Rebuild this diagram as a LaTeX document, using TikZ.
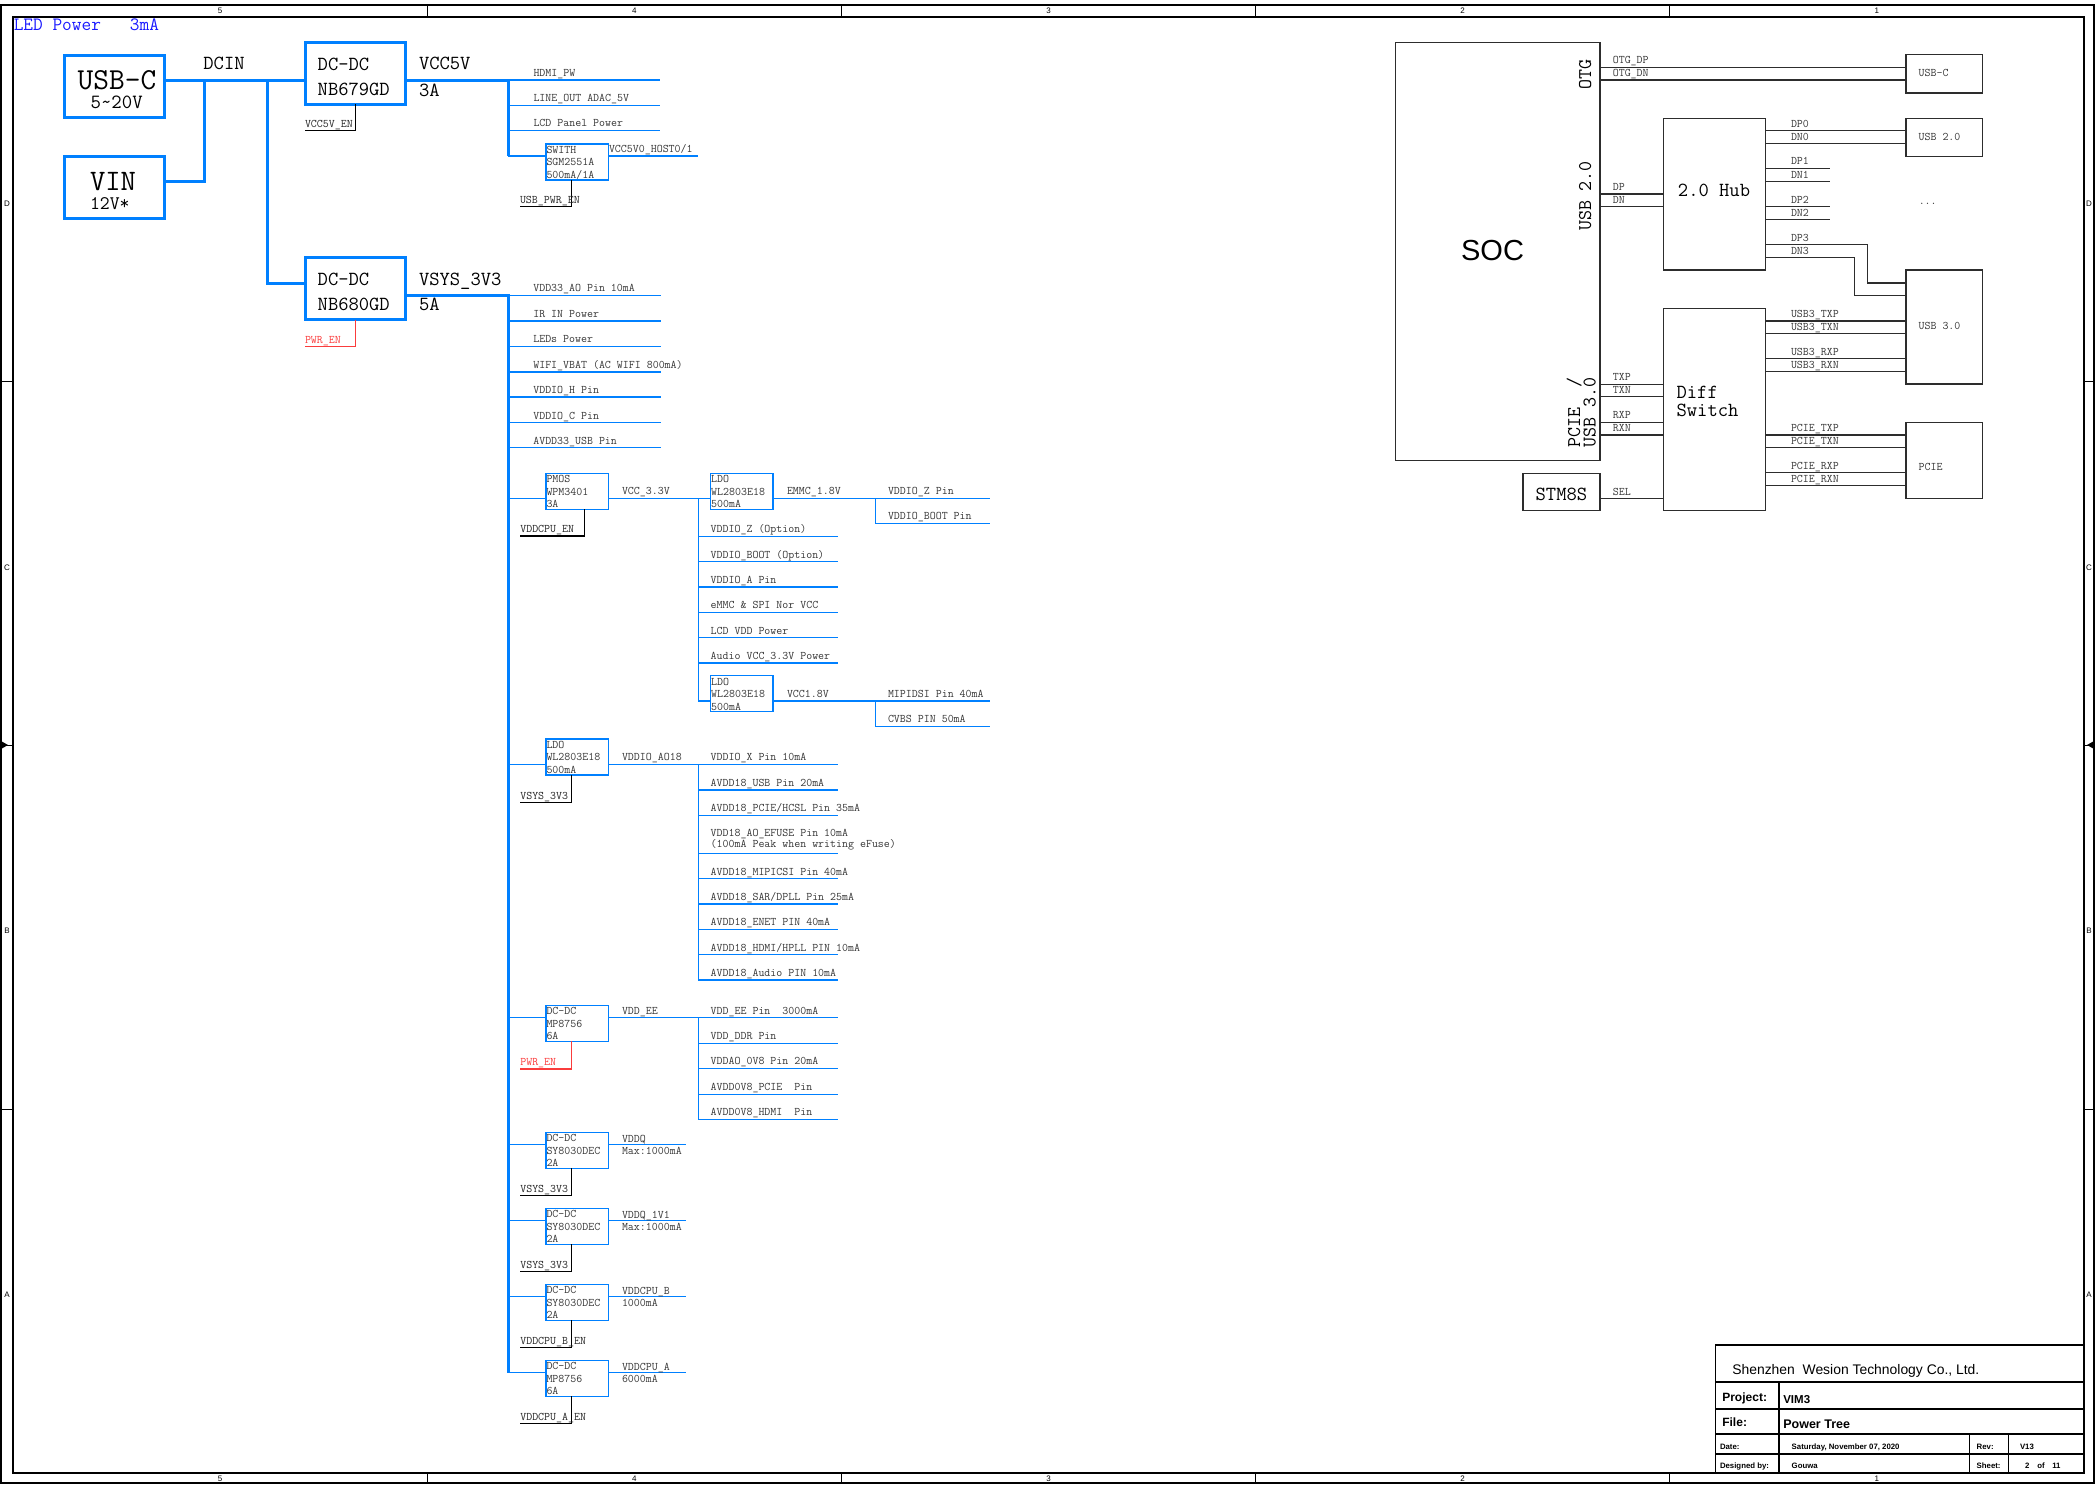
\documentclass[tikz,border=0pt]{standalone}
\usepackage{fontspec}
\renewcommand*{\familydefault}{\ttdefault}
\newfontfamily\arialfont{Liberation Sans}
\usetikzlibrary{positioning,calc}
\definecolor{schblue}{RGB}{0,128,255}
\definecolor{ledblue}{RGB}{25,25,255}
\definecolor{schred}{RGB}{250,60,60}
\definecolor{schtext}{RGB}{55,55,55}
\definecolor{schline}{RGB}{45,45,45}

\tikzset{
  pwrbox/.style={draw=schblue, line width=3pt, minimum width=100pt, minimum height=62pt, anchor=north west},
  chip/.style={draw=schblue, line width=1.4pt, minimum width=62.3pt, minimum height=36pt, anchor=north west},
  blkbox/.style={draw=schline, line width=1.5pt, anchor=north west},
  bus/.style={draw=schblue, line width=3pt},
  tap/.style={draw=schblue, line width=1.4pt},
  enline/.style={draw=black, line width=1.3pt},
  sig/.style={draw=schline, line width=1.3pt},
  lbl/.style={anchor=base west, text=schtext, font=\ttfamily\fontsize{11.6}{13}\selectfont},
  enlbl/.style={anchor=base west, text=black!85, font=\ttfamily\fontsize{11.6}{13}\selectfont},
  biglbl/.style={anchor=base west, text=black, font=\ttfamily\fontsize{20}{22}\selectfont},
  frmlbl/.style={text=black, font=\arialfont\fontsize{8}{9}\selectfont},
  tblbl/.style={anchor=base west, font=\arialfont\bfseries\fontsize{7.8}{9}\selectfont},
}

% three text lines inside a small converter box
\newcommand{\chiptext}[4]{%
  \node[lbl] (#1-a) at ($(#1.north west)+(0.5,9.4)$) {#2};
  \node[lbl] (#1-b) at ($(#1.north west)+(0.5,21.8)$) {#3};
  \node[lbl] (#1-c) at ($(#1.north west)+(0.5,34.4)$) {#4};
}

\begin{document}
\begin{tikzpicture}[x=1pt, y=-1pt, inner sep=0pt, outer sep=0pt]
  \useasboundingbox (0,0) rectangle (2095,1484);

  % drawing frame
  \draw[line width=1.2pt] (1,5) rectangle (2094,1483);
  \draw[line width=1.2pt] (13,17) rectangle (2084,1473);
  \foreach \n [count=\k] in {5,4,3,2,1}{
    \node[frmlbl] (ctop\n) at (13+414.2*\k-207.1,11) {\n};
    \node[frmlbl] (cbot\n) at (13+414.2*\k-207.1,1478.5) {\n};
  }
  \foreach \k in {1,...,4}{
    \draw[line width=1pt] (13+414.2*\k,5) -- (13+414.2*\k,17);
    \draw[line width=1pt] (13+414.2*\k,1473) -- (13+414.2*\k,1483);
  }
  \foreach \r/\y in {D/204,C/568,B/931,A/1295}{
    \node[frmlbl] (rl\r) at (7,\y) {\r};
    \node[frmlbl] (rr\r) at (2089,\y) {\r};
  }
  \foreach \y in {381,745,1109}{
    \draw[line width=1pt] (1,\y) -- (13,\y);
    \draw[line width=1pt] (2084,\y) -- (2094,\y);
  }
  \fill (1,741) -- (8,745) -- (1,749) -- cycle;
  \fill (2094,741) -- (2087,745) -- (2094,749) -- cycle;

  \node[anchor=base west, text=ledblue, font=\ttfamily\fontsize{18.8}{20}\selectfont] (ledpwr) at (13.8,30.7) {LED Power\ \ \ 3mA};

  % inputs
  \node[pwrbox] (usbc) at (64.5,55) {};
  \node[anchor=base, font=\ttfamily\fontsize{30.5}{32}\selectfont] (usbct) at (117,89) {USB-C};
  \node[anchor=base, font=\ttfamily\fontsize{20.2}{22}\selectfont] (usbcv) at (116.7,108) {5\textasciitilde20V};
  \node[pwrbox] (vin) at (64.5,156.5) {};
  \node[anchor=base west, font=\ttfamily\fontsize{29.7}{32}\selectfont] (vint) at (90,190) {VIN};
  \node[anchor=base west, font=\ttfamily\fontsize{19.2}{22}\selectfont] (vinv) at (90,209) {12V*};

  % DC-DC converters
  \node[pwrbox] (nb679) at (305.5,42) {};
  \node[biglbl] (nb679a) at (317.7,70) {DC-DC};
  \node[biglbl] (nb679b) at (317.7,95.6) {NB679GD};
  \node[pwrbox] (nb680) at (305.5,257.5) {};
  \node[biglbl] (nb680a) at (317.7,285) {DC-DC};
  \node[biglbl] (nb680b) at (317.7,310) {NB680GD};

  \node[biglbl] (dcin) at (203.4,69.3) {DCIN};
  \node[biglbl] (vcc5v) at (419,69) {VCC5V};
  \node[biglbl] (vcc5vi) at (419,96) {3A};
  \node[biglbl] (vsys3) at (419,285) {VSYS\_3V3};
  \node[biglbl] (vsys3i) at (419,310) {5A};

  \coordinate (dcin1) at (204.3,80);
  \coordinate (dcin2) at (267.2,80);
  \draw[bus] (usbc.east |- dcin1) -- (nb679.west |- dcin1);
  \draw[bus] (dcin1) |- (vin.east |- 0,181.7);
  \draw[bus] (dcin2) |- (nb680.west |- 0,283.3);

  % VCC5V rail
  \coordinate (v5top) at (508,80);
  \coordinate (v5bot) at (508,156);
  \draw[bus] (nb679.east |- v5top) -- (v5top) -- (v5bot);
  \foreach \y/\t [count=\k] in {80/HDMI\_PW, 105.3/LINE\_OUT ADAC\_5V, 130.7/LCD Panel Power}{
    \coordinate (v5e\k) at (660,\y);
    \draw[tap] (v5top |- v5e\k) -- (v5e\k);
    \node[lbl] (v5l\k) at (533.5,\y-4) {\t};
  }
  \node[chip] (sgm) at (546,144) {};
  \chiptext{sgm}{SWITH}{SGM2551A}{500mA/1A}
  \coordinate (host) at (698,156);
  \draw[tap] (v5bot) -- (sgm.west |- v5bot);
  \draw[tap] (sgm.east |- host) -- (host);
  \node[lbl] (hostl) at (609,152) {VCC5V0\_HOST0/1};

  % enables
  \coordinate (usben) at (520,206.7);
  \draw[enline] ([xshift=25.6pt]sgm.south west) |- (usben);
  \node[enlbl] (usbenl) at (usben |- 0,203.4) {USB\_PWR\_EN};
  \coordinate (v5en) at (305,130.7);
  \draw[enline] ([xshift=50.3pt]nb679.south west) |- (v5en);
  \node[enlbl] (v5enl) at (v5en |- 0,127.4) {VCC5V\_EN};
  \coordinate (pwren1) at (305,346.7);
  \draw[enline, draw=schred] ([xshift=50.3pt]nb680.south west) |- (pwren1);
  \node[enlbl, text=schred] (pwren1l) at (pwren1 |- 0,343.4) {PWR\_EN};

  % VSYS_3V3 rail
  \coordinate (vsys) at (508,295.5);
  \coordinate (vsysend) at (508,1372.7);
  \draw[bus] (nb680.east |- vsys) -- (vsys) -- (vsysend);
  \foreach \y/\t [count=\k] in {295.5/VDD33\_AO Pin 10mA, 321/IR IN Power, 346.3/LEDs Power, 372/{WIFI\_VBAT (AC WIFI 800mA)}, 397/VDDIO\_H Pin, 422.7/VDDIO\_C Pin, 447.7/AVDD33\_USB Pin}{
    \coordinate (vs\k) at (660.7,\y);
    \draw[tap] (vsys |- vs\k) -- (vs\k);
    \node[lbl] (vsl\k) at (533.3,\y-3.6) {\t};
  }

  % PMOS -> VCC_3.3V
  \node[chip] (pmos) at (546,473.3) {};
  \chiptext{pmos}{PMOS}{WPM3401}{3A}
  \node[chip] (ldoa) at (710.7,473.3) {};
  \chiptext{ldoa}{LDO}{WL2803E18}{500mA}
  \coordinate (tpmos) at (508,498.3);
  \draw[tap] (tpmos) -- (pmos.west |- tpmos);
  \draw[tap] (pmos.east |- tpmos) -- (ldoa.west |- tpmos);
  \node[lbl] (vcc33) at (622,494.3) {VCC\_3.3V};
  \coordinate (cpuen) at (520.3,536);
  \draw[enline] ([xshift=38.3pt]pmos.south west) |- (cpuen);
  \node[enlbl] (cpuenl) at (cpuen |- 0,532.7) {VDDCPU\_EN};

  \coordinate (v33top) at (698.3,498.3);
  \coordinate (v33bot) at (698.3,701);
  \draw[tap] (v33top) -- (v33bot);
  \foreach \y/\t [count=\k] in {536.3/VDDIO\_Z (Option), 561.7/VDDIO\_BOOT (Option), 587/VDDIO\_A Pin, 612.3/eMMC \& SPI Nor VCC, 637.7/LCD VDD Power, 663/Audio VCC\_3.3V Power}{
    \coordinate (v33e\k) at (837.7,\y);
    \draw[tap] (v33top |- v33e\k) -- (v33e\k);
    \node[lbl] (v33l\k) at (710.7,\y-3.7) {\t};
  }

  % EMMC_1.8V
  \coordinate (emmc) at (875.7,498.3);
  \coordinate (emmce) at (990,498.3);
  \coordinate (emmcb) at (990,523.3);
  \draw[tap] (ldoa.east |- emmc) -- (emmce);
  \draw[tap] (emmc) |- (emmcb);
  \node[lbl] (emmcl) at (787,494.3) {EMMC\_1.8V};
  \node[lbl] (emmcl1) at (888,494.3) {VDDIO\_Z Pin};
  \node[lbl] (emmcl2) at (888,519.7) {VDDIO\_BOOT Pin};

  % VCC1.8V
  \node[chip] (ldob) at (710.7,675.7) {};
  \chiptext{ldob}{LDO}{WL2803E18}{500mA}
  \coordinate (v18) at (875.7,701);
  \coordinate (v18e) at (990,701);
  \coordinate (v18b) at (990,726.7);
  \draw[tap] (v33bot) -- (ldob.west |- v33bot);
  \draw[tap] (ldob.east |- v18) -- (v18e);
  \draw[tap] (v18) |- (v18b);
  \node[lbl] (v18l) at (787,697.7) {VCC1.8V};
  \node[lbl] (v18l1) at (888,697.7) {MIPIDSI Pin 40mA};
  \node[lbl] (v18l2) at (888,722.3) {CVBS PIN 50mA};

  % VDDIO_AO18
  \node[chip] (ldoc) at (546,739) {};
  \chiptext{ldoc}{LDO}{WL2803E18}{500mA}
  \coordinate (tldoc) at (508,764.3);
  \coordinate (ao18top) at (698.3,764.3);
  \coordinate (ao18bot) at (698.3,980);
  \coordinate (ao18e) at (837.7,764.3);
  \draw[tap] (tldoc) -- (ldoc.west |- tldoc);
  \draw[tap] (ldoc.east |- tldoc) -- (ao18e);
  \draw[tap] (ao18top) -- (ao18bot);
  \node[lbl] (ao18l) at (622,760.7) {VDDIO\_AO18};
  \node[lbl] (ao18l0) at (710.7,760.7) {VDDIO\_X Pin 10mA};
  \coordinate (ldocen) at (520.3,802.3);
  \draw[enline] ([xshift=25.3pt]ldoc.south west) |- (ldocen);
  \node[enlbl] (ldocenl) at (ldocen |- 0,799) {VSYS\_3V3};
  \foreach \y/\t [count=\k] in {790/AVDD18\_USB Pin 20mA, 815.3/{AVDD18\_PCIE/HCSL Pin 35mA}, 853.3/{}, 878.7/AVDD18\_MIPICSI Pin 40mA, 904/{AVDD18\_SAR/DPLL Pin 25mA}, 929.3/AVDD18\_ENET PIN 40mA, 954.7/{AVDD18\_HDMI/HPLL PIN 10mA}, 980/AVDD18\_Audio PIN 10mA}{
    \coordinate (ao18e\k) at (837.7,\y);
    \draw[tap] (ao18top |- ao18e\k) -- (ao18e\k);
    \node[lbl] (ao18l\k) at (710.7,\y-3.6) {\t};
  }
  \node[lbl] (efusel) at (710.7,836.7) {VDD18\_AO\_EFUSE Pin 10mA};
  \node[lbl] (efusel2) at (710.7,847.7) {(100mA Peak when writing eFuse)};

  % VDD_EE
  \node[chip] (mpee) at (546,1005.3) {};
  \chiptext{mpee}{DC-DC}{MP8756}{6A}
  \coordinate (tmpee) at (508,1017.7);
  \coordinate (eetop) at (698.3,1017.7);
  \coordinate (eebot) at (698.3,1119.3);
  \coordinate (eee) at (837.7,1017.7);
  \draw[tap] (tmpee) -- (mpee.west |- tmpee);
  \draw[tap] (mpee.east |- tmpee) -- (eee);
  \draw[tap] (eetop) -- (eebot);
  \node[lbl] (eel) at (622,1014.3) {VDD\_EE};
  \node[lbl] (eel0) at (710.7,1014.3) {VDD\_EE Pin\ \ 3000mA};
  \coordinate (pwren2) at (520.3,1069);
  \draw[enline, draw=schred] ([xshift=25.3pt]mpee.south west) |- (pwren2);
  \node[enlbl, text=schred] (pwren2l) at (pwren2 |- 0,1065.7) {PWR\_EN};
  \foreach \y/\t [count=\k] in {1043.3/VDD\_DDR Pin, 1068.7/VDDAO\_0V8 Pin 20mA, 1094.3/AVDD0V8\_PCIE\ \ Pin, 1119.3/AVDD0V8\_HDMI\ \ Pin}{
    \coordinate (eee\k) at (837.7,\y);
    \draw[tap] (eetop |- eee\k) -- (eee\k);
    \node[lbl] (eel\k) at (710.7,\y-3.8) {\t};
  }

  % DDR and CPU supplies
  \foreach \nm/\y/\ta/\tb/\tc/\oa/\ob/\en in {
      dcq/1132.3/DC-DC/SY8030DEC/2A/VDDQ/Max:1000mA/VSYS\_3V3,
      dcqq/1208.3/DC-DC/SY8030DEC/2A/VDDQ\_1V1/Max:1000mA/VSYS\_3V3,
      dccb/1284.3/DC-DC/SY8030DEC/2A/VDDCPU\_B/1000mA/VDDCPU\_B\_EN,
      dcca/1360.3/DC-DC/MP8756/6A/VDDCPU\_A/6000mA/VDDCPU\_A\_EN}{
    \node[chip] (\nm) at (546,\y) {};
    \chiptext{\nm}{\ta}{\tb}{\tc}
    \coordinate (\nm-in) at (508,\y+12.3);
    \coordinate (\nm-out) at (685.7,\y+12.3);
    \coordinate (\nm-en) at (520.3,\y+63.3);
    \draw[tap] (\nm-in) -- (\nm.west |- \nm-in);
    \draw[tap] (\nm.east |- \nm-out) -- (\nm-out);
    \draw[enline] ([xshift=25.3pt]\nm.south west) |- (\nm-en);
    \node[lbl] (\nm-oa) at (622,\y+9.7) {\oa};
    \node[lbl] (\nm-ob) at (622,\y+21.7) {\ob};
    \node[enlbl] (\nm-enl) at (520.3,\y+60) {\en};
  }

  % USB / PCIE tree
  \node[blkbox, minimum width=204.4pt, minimum height=418pt] (soc) at (1395.6,42.3) {};
  \node[font=\arialfont\fontsize{29}{32}\selectfont] (soct) at (1492.5,250.7) {SOC};
  \node[biglbl, anchor=base, rotate=90, font=\ttfamily\fontsize{19.4}{22}\selectfont] (otgl) at (1591,74.3) {OTG};
  \node[biglbl, anchor=base, rotate=90, font=\ttfamily\fontsize{19.4}{22}\selectfont] (usb2l) at (1591,196) {USB 2.0};
  \node[biglbl, rotate=90, font=\ttfamily\fontsize{19.4}{22}\selectfont] (pciel) at (1580,447) {PCIE\ \ /};
  \node[biglbl, rotate=90, font=\ttfamily\fontsize{19.4}{22}\selectfont] (usb3l) at (1595.5,447) {USB 3.0};

  \node[blkbox, minimum width=102.4pt, minimum height=151.7pt] (hub) at (1663.3,118.3) {};
  \node[biglbl, anchor=base] (hubt) at (1714,196) {2.0 Hub};
  \node[blkbox, minimum width=102.4pt, minimum height=202pt] (dsw) at (1663.3,308.7) {};
  \node[biglbl] (dswa) at (1676.6,398.3) {Diff};
  \node[biglbl] (dswb) at (1676.6,416) {Switch};
  \node[blkbox, minimum width=77.2pt, minimum height=37.4pt] (stm) at (1522.8,473.3) {};
  \node[biglbl, anchor=base] (stmt) at (1561.4,500.7) {STM8S};

  \node[blkbox, minimum width=76.4pt, minimum height=38.7pt] (usbcr) at (1906,54.3) {};
  \node[lbl] (usbcrt) at (1918.6,76.7) {USB-C};
  \node[blkbox, minimum width=76.4pt, minimum height=38pt] (usb2r) at (1906,118.3) {};
  \node[lbl] (usb2rt) at (1918.6,140) {USB 2.0};
  \node[lbl, anchor=base] (more) at (1927.7,204) {...};
  \node[blkbox, minimum width=76.4pt, minimum height=114pt] (usb3r) at (1906,270) {};
  \node[lbl] (usb3rt) at (1918.6,329.3) {USB 3.0};
  \node[blkbox, minimum width=76.4pt, minimum height=75.6pt] (pcier) at (1906,422.7) {};
  \node[lbl] (pciert) at (1918.6,470) {PCIE};

  % SOC side signals
  \foreach \y/\t [count=\k] in {67.3/OTG\_DP, 80/OTG\_DN}{
    \draw[sig] (soc.east |- 0,\y) -- (usbcr.west |- 0,\y);
    \node[lbl] (otg\k) at (1612.8,\y-3.5) {\t};
  }
  \foreach \y/\t [count=\k] in {194/DP, 206.7/DN}{
    \draw[sig] (soc.east |- 0,\y) -- (hub.west |- 0,\y);
    \node[lbl] (hdp\k) at (1612.8,\y-3.4) {\t};
  }
  \foreach \y/\t [count=\k] in {384.3/TXP, 396.7/TXN, 422.3/RXP, 435/RXN}{
    \draw[sig] (soc.east |- 0,\y) -- (dsw.west |- 0,\y);
    \node[lbl] (sdp\k) at (1612.8,\y-3.6) {\t};
  }
  \draw[sig] (stm.east |- 0,498.3) -- (dsw.west |- 0,498.3);
  \node[lbl] (sell) at (1612.8,495) {SEL};

  % hub and switch outputs
  \foreach \y/\t [count=\k] in {130.3/DP0, 143.3/DN0}{
    \draw[sig] (hub.east |- 0,\y) -- (usb2r.west |- 0,\y);
    \node[lbl] (hub\k) at (1791,\y-3.2) {\t};
  }
  \foreach \y/\t [count=\k] in {168.3/DP1, 181.7/DN1, 206.7/DP2, 219.7/DN2}{
    \coordinate (hube\k) at (1829.5,\y);
    \draw[sig] (hub.east |- hube\k) -- (hube\k);
    \node[lbl] (hubx\k) at (1791,\y-3.4) {\t};
  }
  \coordinate (dp3c) at (1867.6,283);
  \coordinate (dn3c) at (1854.7,295.7);
  \draw[sig] (hub.east |- 0,244.7) -| (dp3c) -- (usb3r.west |- dp3c);
  \draw[sig] (hub.east |- 0,257.7) -| (dn3c) -- (usb3r.west |- dn3c);
  \node[lbl] (dp3l) at (1791,241.3) {DP3};
  \node[lbl] (dn3l) at (1791,254) {DN3};
  \foreach \y/\t [count=\k] in {321/USB3\_TXP, 333.7/USB3\_TXN, 358.7/USB3\_RXP, 371.7/USB3\_RXN}{
    \draw[sig] (dsw.east |- 0,\y) -- (usb3r.west |- 0,\y);
    \node[lbl] (u3\k) at (1791,\y-3.7) {\t};
  }
  \foreach \y/\t [count=\k] in {435/PCIE\_TXP, 447.7/PCIE\_TXN, 472.7/PCIE\_RXP, 485.7/PCIE\_RXN}{
    \draw[sig] (dsw.east |- 0,\y) -- (pcier.west |- 0,\y);
    \node[lbl] (pc\k) at (1791,\y-3.7) {\t};
  }

  % title block
  \draw[line width=1.3pt] (1715.7,1345) rectangle (2084,1473);
  \foreach \y in {1382,1409,1434,1454}
    \draw[line width=1.1pt] (1715.7,\y) -- (2084,\y);
  \draw[line width=1.1pt] (1779,1382) -- (1779,1473);
  \draw[line width=1.1pt] (1969.3,1434) -- (1969.3,1473);
  \draw[line width=1.1pt] (2008.3,1434) -- (2008.3,1473);
  \node[anchor=base west, font=\arialfont\fontsize{13.9}{16}\selectfont] (tbco) at (1732.3,1374.3) {Shenzhen\ \ Wesion Technology Co., Ltd.};
  \node[anchor=base west, font=\arialfont\bfseries\fontsize{12}{14}\selectfont] (tbprj) at (1722.3,1401) {Project:};
  \node[anchor=base west, font=\arialfont\bfseries\fontsize{11.5}{14}\selectfont] (tbprjv) at (1783.3,1403.5) {VIM3};
  \node[anchor=base west, font=\arialfont\bfseries\fontsize{12}{14}\selectfont] (tbfile) at (1722.3,1426.7) {File:};
  \node[anchor=base west, font=\arialfont\bfseries\fontsize{12.5}{14}\selectfont] (tbfilev) at (1783.3,1428.3) {Power Tree};
  \node[tblbl] (tbdate) at (1720,1449) {Date:};
  \node[tblbl] (tbdatev) at (1791.7,1449) {Saturday, November 07, 2020};
  \node[tblbl] (tbrev) at (1976.7,1449) {Rev:};
  \node[tblbl] (tbrevv) at (2020,1449) {V13};
  \node[tblbl] (tbdes) at (1720,1468.3) {Designed by:};
  \node[tblbl] (tbdesv) at (1791.7,1468.3) {Gouwa};
  \node[tblbl] (tbsht) at (1976.7,1468.3) {Sheet:};
  \node[tblbl] (tbsht1) at (2025,1468.3) {2};
  \node[tblbl] (tbsht2) at (2037.3,1468.3) {of};
  \node[tblbl] (tbsht3) at (2052.3,1468.3) {11};
\end{tikzpicture}
\end{document}
